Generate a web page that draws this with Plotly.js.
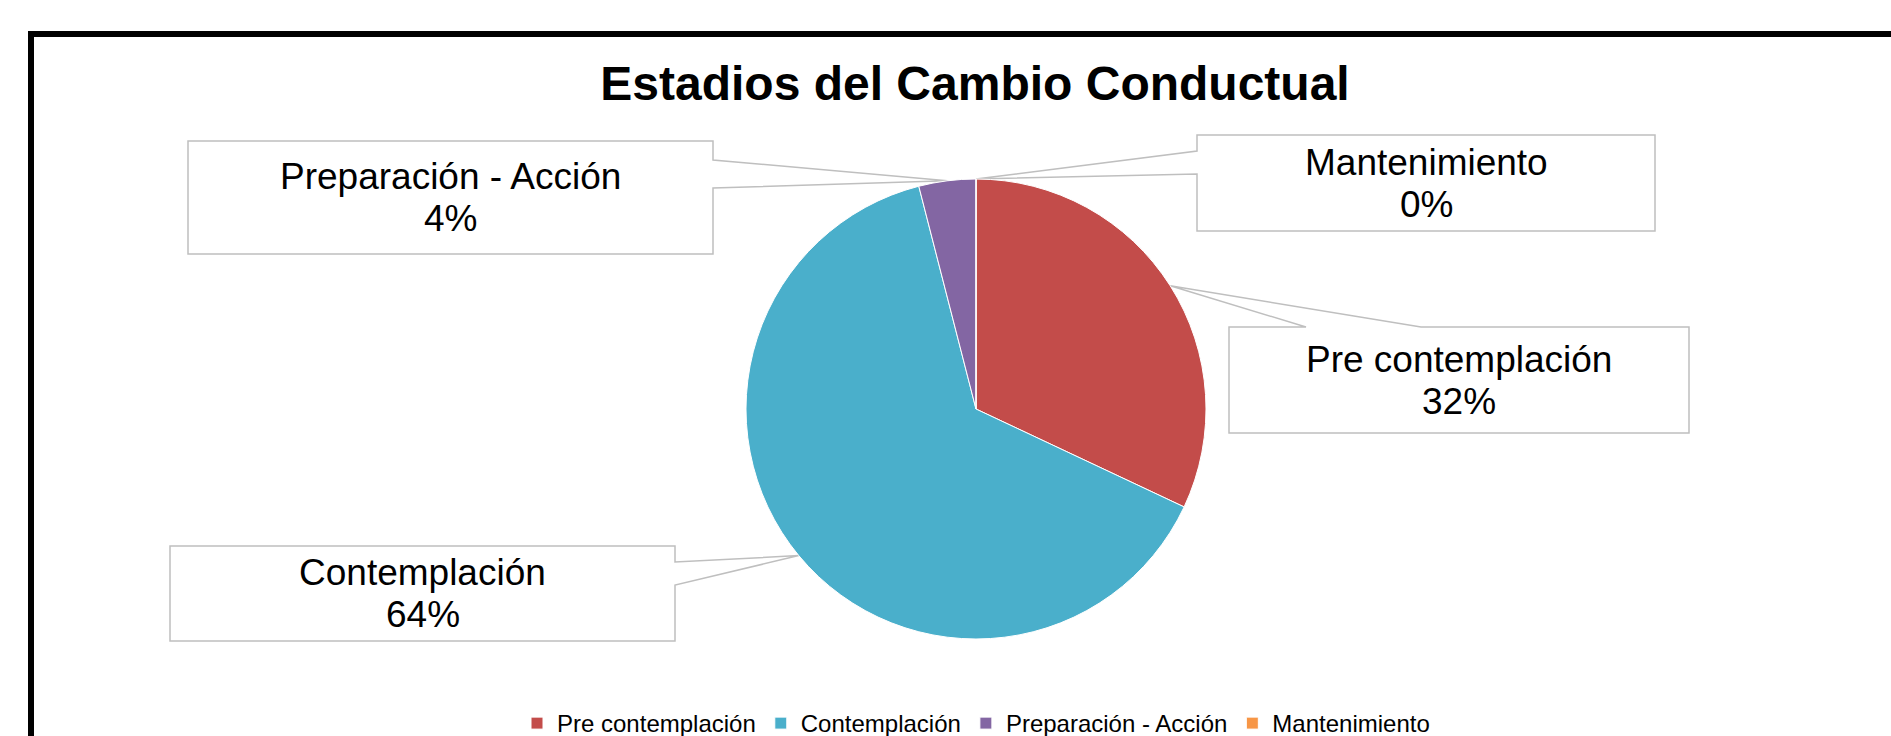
<!DOCTYPE html>
<html>
<head>
<meta charset="utf-8">
<script src="https://cdn.plot.ly/plotly-3.0.1.min.js"></script>
<style>
  html, body { margin: 0; padding: 0; background: #ffffff; }
  #chart { width: 1891px; height: 736px; }
</style>
</head>
<body>
<div id="chart"></div>
<script>
// ---- data ----
const categories = ['Pre contemplación', 'Contemplación', 'Preparación - Acción', 'Mantenimiento'];
const values = [8, 16, 1, 0];
const colors = ['#C34C4A', '#4AAFCB', '#8366A3', '#F79646'];
const chartTitle = 'Estadios del Cambio Conductual';

// ---- layout constants (pixels) ----
const W = 1891, H = 736;
const cx = 976, cy = 409, r = 230;
const FONT = '"Liberation Sans", Arial, sans-serif';

// callout boxes
const boxes = [
  {x0: 1229, x1: 1689, y0: 327, y1: 433, side: 'top',   w0: 1306, w1: 1421},
  {x0: 170,  x1: 675,  y0: 546, y1: 641, side: 'right', w0: 562,  w1: 585},
  {x0: 188,  x1: 713,  y0: 141, y1: 254, side: 'right', w0: 160,  w1: 188},
  {x0: 1197, x1: 1655, y0: 135, y1: 231, side: 'left',  w0: 151,  w1: 174}
];

const total = values.reduce((a, b) => a + b, 0);
let cum = 0;
const tips = values.map(v => {
  const mid = (cum + v / 2) / total;
  cum += v;
  const a = mid * 2 * Math.PI;
  return [cx + r * Math.sin(a), cy - r * Math.cos(a)];
});

function calloutPath(b, t) {
  const T = t[0].toFixed(1) + ',' + t[1].toFixed(1);
  if (b.side === 'top') {
    return `M${b.x0},${b.y0} L${b.w0},${b.y0} L${T} L${b.w1},${b.y0} L${b.x1},${b.y0} L${b.x1},${b.y1} L${b.x0},${b.y1} Z`;
  } else if (b.side === 'right') {
    return `M${b.x0},${b.y0} L${b.x1},${b.y0} L${b.x1},${b.w0} L${T} L${b.x1},${b.w1} L${b.x1},${b.y1} L${b.x0},${b.y1} Z`;
  } else {
    return `M${b.x0},${b.y0} L${b.x1},${b.y0} L${b.x1},${b.y1} L${b.x0},${b.y1} L${b.x0},${b.w1} L${T} L${b.x0},${b.w0} Z`;
  }
}

const shapes = [];
const annotations = [];
boxes.forEach((b, i) => {
  shapes.push({
    type: 'path', xref: 'x', yref: 'y', layer: 'below',
    path: calloutPath(b, tips[i]),
    line: {color: '#BFBFBF', width: 1.5},
    fillcolor: '#FFFFFF'
  });
  const pct = Math.round(values[i] / total * 100);
  const mx = (b.x0 + b.x1) / 2, my = (b.y0 + b.y1) / 2;
  [[categories[i], -21], [pct + '%', 21]].forEach(([txt, dy]) => {
    annotations.push({
      xref: 'x', yref: 'y',
      x: mx, y: my + dy,
      xanchor: 'center', yanchor: 'middle',
      text: txt,
      showarrow: false, align: 'center',
      font: {family: FONT, size: 37, color: '#000000'}
    });
  });
});

// outer black frame
shapes.push({
  type: 'rect', xref: 'x', yref: 'y', layer: 'above',
  x0: 31, y0: 34, x1: W + 20, y1: H + 20,
  line: {color: '#000000', width: 6}
});

const pie = {
  type: 'pie',
  labels: categories,
  values: values,
  sort: false,
  direction: 'clockwise',
  rotation: 0,
  textinfo: 'none',
  hoverinfo: 'label+percent',
  marker: {colors: colors, line: {color: '#FFFFFF', width: 1}},
  domain: {
    x: [(cx - r) / W, (cx + r) / W],
    y: [1 - (cy + r) / H, 1 - (cy - r) / H]
  },
  showlegend: true
};

const layout = {
  width: W, height: H,
  margin: {l: 0, r: 0, t: 0, b: 0, autoexpand: false},
  paper_bgcolor: '#FFFFFF',
  plot_bgcolor: 'rgba(0,0,0,0)',
  title: {
    text: '<b>' + chartTitle + '</b>',
    x: 975 / W, xanchor: 'center',
    y: 1 - 83 / H, yanchor: 'middle',
    font: {family: FONT, size: 48, color: '#000000'}
  },
  xaxis: {range: [0, W], visible: false, fixedrange: true},
  yaxis: {range: [H, 0], visible: false, fixedrange: true},
  showlegend: true,
  legend: {
    orientation: 'h',
    x: 976 / W, xanchor: 'center',
    y: -0.0136, yanchor: 'bottom',
    font: {family: FONT, size: 24, color: '#000000'},
    bgcolor: 'rgba(0,0,0,0)'
  },
  shapes: shapes,
  annotations: annotations
};

Plotly.newPlot('chart', [pie], layout, {displayModeBar: false, responsive: false});
</script>
</body>
</html>
